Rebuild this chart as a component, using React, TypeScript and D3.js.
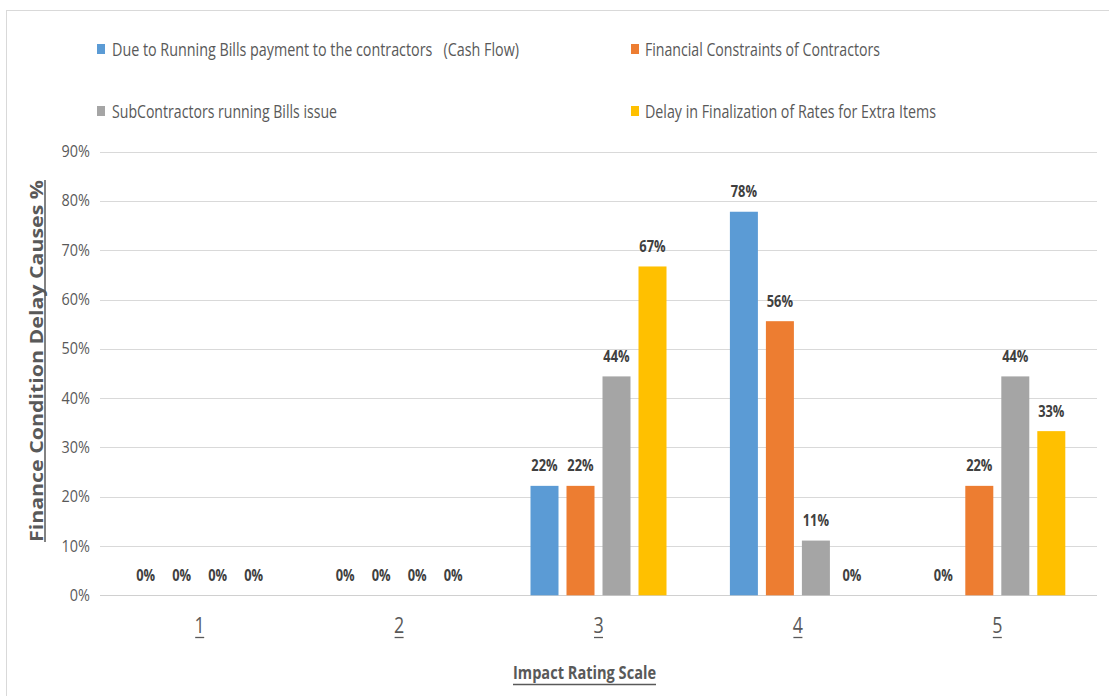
import React from "react";
import * as d3 from "d3";

const categories = ["1", "2", "3", "4", "5"];
const seriesNames = [
  "Due to Running Bills payment to the contractors   (Cash Flow)",
  "Financial Constraints of Contractors",
  "SubContractors running Bills issue",
  "Delay in Finalization of Rates for Extra Items",
];
const runningBills = [0, 0, 0.222, 0.778, 0];
const financialConstraints = [0, 0, 0.222, 0.556, 0.222];
const subContractors = [0, 0, 0.444, 0.111, 0.444];
const delayRates = [0, 0, 0.667, 0, 0.333];
const seriesValues = [runningBills, financialConstraints, subContractors, delayRates];
const colors = ["#5B9BD5", "#ED7D31", "#A5A5A5", "#FFC000"];
const yTicks = [0, 0.1, 0.2, 0.3, 0.4, 0.5, 0.6, 0.7, 0.8, 0.9];
const yTitle = "Finance Condition Delay Causes %";
const xTitle = "Impact Rating Scale";

const FONT = "'Open Sans', 'Noto Sans', 'DejaVu Sans', sans-serif";

function SText(props: {
  x: number;
  y: number;
  sx: number;
  anchor?: string;
  size: number;
  bold?: boolean;
  fill: string;
  children: React.ReactNode;
}) {
  return (
    <text
      transform={`translate(${props.x},${props.y}) scale(${props.sx},1)`}
      textAnchor={props.anchor || "start"}
      fontFamily={FONT}
      fontSize={props.size}
      fontWeight={props.bold ? "bold" : "normal"}
      fill={props.fill}
    >
      {props.children}
    </text>
  );
}

export default function App() {
  const W = 1109;
  const H = 696;
  const x0 = d3.scaleBand<string>().domain(categories).range([100, 1097]).paddingInner(0).paddingOuter(0);
  const groupW = 144;
  const x1 = d3
    .scaleBand<number>()
    .domain([0, 1, 2, 3])
    .range([0, groupW])
    .paddingInner(8 / 36)
    .paddingOuter(4 / 36);
  const y = d3.scaleLinear().domain([0, 0.9]).range([595.3, 151.6]);
  const pct = d3.format(".0%");

  const legendItems = [
    { x: 97, y: 49, tx: 112, len: 407 },
    { x: 631, y: 49, tx: 645, len: 235 },
    { x: 97, y: 111, tx: 112, len: 225 },
    { x: 631, y: 111, tx: 645, len: 291 },
  ];

  return (
    <svg width={W} height={H} style={{ position: "absolute", left: 0, top: 0, background: "#fff" }}>
      <rect x={0} y={0} width={W} height={H} fill="#fff" />
      <rect x={6.5} y={10.5} width={1200} height={800} fill="none" stroke="#d9d9d9" strokeWidth={1} />

      {/* legend */}
      {legendItems.map((it, i) => (
        <g key={i}>
          <rect x={it.x} y={it.y - 5} width={8} height={10} fill={colors[i]} />
          <text
            x={it.tx}
            y={it.y + 6.5}
            fontFamily={FONT}
            fontSize={18}
            fill="#595959"
            textLength={it.len}
            lengthAdjust="spacingAndGlyphs"
            style={{ whiteSpace: "pre" }}
          >
            {seriesNames[i]}
          </text>
        </g>
      ))}

      {/* gridlines */}
      {yTicks.map((t) => (
        <line
          key={t}
          x1={100}
          x2={1097}
          y1={Math.round(y(t)) + 0.5}
          y2={Math.round(y(t)) + 0.5}
          stroke={t === 0 ? "#d0d0d0" : "#d9d9d9"}
          strokeWidth={1}
        />
      ))}
      {/* y tick labels */}
      {yTicks.map((t) => (
        <SText key={"l" + t} x={90} y={y(t) + 5.5} sx={0.93} anchor="end" size={15.5} fill="#595959">
          {pct(t)}
        </SText>
      ))}

      {/* bars */}
      {categories.map((c, ci) => {
        const gx = (x0(c) as number) + (x0.bandwidth() - groupW) / 2;
        const cx = (x0(c) as number) + x0.bandwidth() / 2;
        return (
          <g key={c}>
            {seriesValues.map((vals, si) => {
              const v = vals[ci];
              const bx = gx + (x1(si) as number);
              const bw = x1.bandwidth();
              return (
                <g key={si}>
                  {v > 0 && <rect x={bx} y={y(v)} width={bw} height={y(0) - y(v)} fill={colors[si]} />}
                  <SText x={bx + bw / 2} y={y(v) - 14.5} sx={0.78} anchor="middle" size={16.5} bold fill="#404040">
                    {pct(v)}
                  </SText>
                </g>
              );
            })}
            <SText x={cx} y={633.3} sx={0.85} anchor="middle" size={21} fill="#595959">
              {c}
            </SText>
            <line x1={cx - 4.5} x2={cx + 4.5} y1={637.5} y2={637.5} stroke="#595959" strokeWidth={1.3} />
          </g>
        );
      })}

      {/* axis titles */}
      <text
        x={513}
        y={679}
        fontFamily={FONT}
        fontWeight="bold"
        fontSize={18.5}
        fill="#595959"
        textLength={143}
        lengthAdjust="spacingAndGlyphs"
      >
        {xTitle}
      </text>
      <line x1={513} x2={656} y1={684.5} y2={684.5} stroke="#595959" strokeWidth={1.5} />

      <text
        transform={`translate(42.5, 542) rotate(-90)`}
        x={0}
        y={0}
        fontFamily={FONT}
        fontWeight="bold"
        fontSize={18.5}
        fill="#595959"
        textLength={362}
        lengthAdjust="spacingAndGlyphs"
      >
        {yTitle}
      </text>
      <line x1={45} x2={45} y1={180} y2={542} stroke="#595959" strokeWidth={1.5} />
    </svg>
  );
}
